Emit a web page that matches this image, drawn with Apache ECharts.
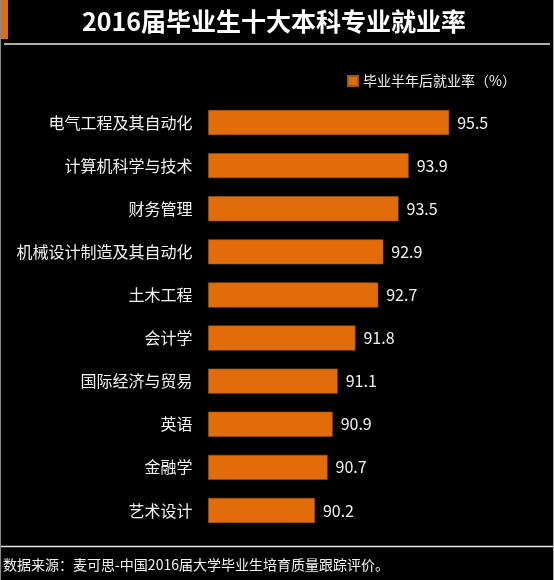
<!DOCTYPE html>
<html>
<head>
<meta charset="utf-8">
<script src="https://cdn.jsdelivr.net/npm/echarts@6/dist/echarts.min.js"></script>
<style>
html,body{margin:0;padding:0;background:#000;}
#c{width:554px;height:580px;}
</style>
</head>
<body>
<div id="c"></div>
<script>
const titleText = '2016届毕业生十大本科专业就业率';
const seriesName = '毕业半年后就业率（%）';
const sourceText = '数据来源：麦可思-中国2016届大学毕业生培育质量跟踪评价。';
const categories = ['电气工程及其自动化','计算机科学与技术','财务管理','机械设计制造及其自动化','土木工程','会计学','国际经济与贸易','英语','金融学','艺术设计'];
const values = [95.5, 93.9, 93.5, 92.9, 92.7, 91.8, 91.1, 90.9, 90.7, 90.2];

const FONT = '"Noto Sans CJK SC", "Noto Sans", sans-serif';
const chart = echarts.init(document.getElementById('c'), null, {renderer:'canvas'});
chart.setOption({
  backgroundColor: '#000',
  animation: false,
  textStyle: {fontFamily: FONT},
  legend: {
    data: [seriesName],
    left: 342, top: 69,
    icon: 'rect', itemWidth: 10, itemHeight: 10, itemGap: 6,
    textStyle: {color: '#f2f2f2', fontSize: 14, fontFamily: FONT}
  },
  grid: {left: 208.5, top: 101, width: 304, height: 431, containLabel: false},
  xAxis: {
    type: 'value', min: 86, max: 98,
    show: false
  },
  yAxis: {
    type: 'category', data: categories, inverse: true,
    axisLine: {show: false}, axisTick: {show: false}, splitLine: {show: false},
    axisLabel: {color: '#f2f2f2', fontSize: 16, margin: 16, fontFamily: FONT}
  },
  series: [{
    name: seriesName, type: 'bar', data: values, barWidth: 25,
    itemStyle: {color: '#E36C0A', borderColor: '#9a5a10', borderWidth: 0.6},
    label: {show: true, position: 'right', distance: 8, color: '#f2f2f2', fontSize: 16, fontFamily: FONT}
  }],
  graphic: [
    {type: 'rect', shape: {x: 0, y: 0, width: 8, height: 39}, style: {fill: '#E36C0A'}},
    {type: 'text', x: 274, y: 21, style: {text: titleText, fill: '#fff', font: 'bold 25px ' + FONT, textAlign: 'center', textVerticalAlign: 'middle'}},
    {type: 'line', shape: {x1: 4, y1: 44, x2: 550, y2: 44}, style: {stroke: '#e8e8e8', lineWidth: 1.5}},
    {type: 'line', shape: {x1: 0, y1: 546.5, x2: 554, y2: 546.5}, style: {stroke: '#e8e8e8', lineWidth: 1.5}},
    {type: 'line', shape: {x1: 0.5, y1: 0, x2: 0.5, y2: 580}, style: {stroke: '#888', lineWidth: 1}},
    {type: 'line', shape: {x1: 553.5, y1: 0, x2: 553.5, y2: 580}, style: {stroke: '#aaa', lineWidth: 1}},
    {type: 'text', x: 3, y: 565, style: {text: sourceText, fill: '#f2f2f2', font: '14px ' + FONT, textAlign: 'left', textVerticalAlign: 'middle'}}
  ]
});
</script>
</body>
</html>
